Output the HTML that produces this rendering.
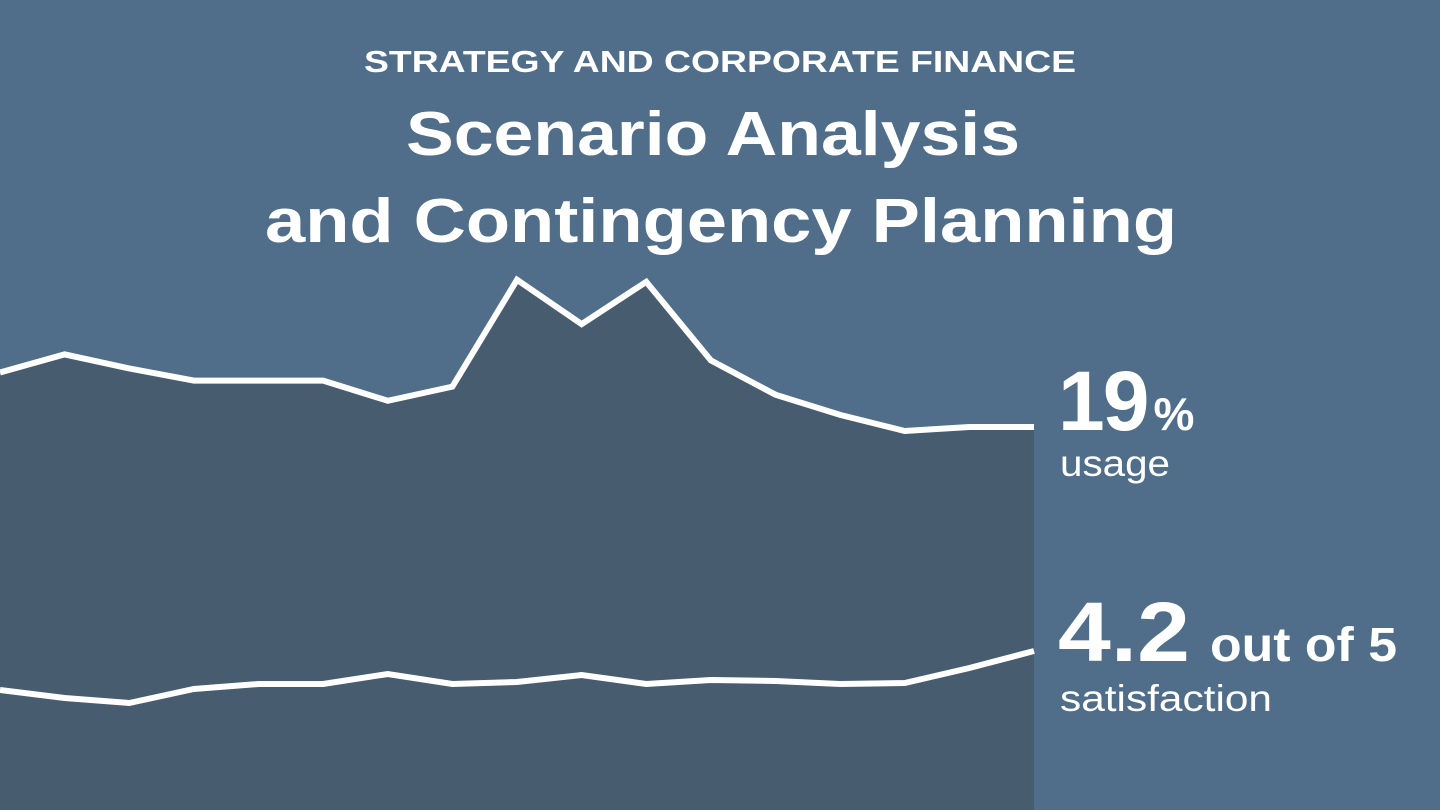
<!DOCTYPE html>
<html><head><meta charset="utf-8"><style>
html,body{margin:0;padding:0;width:1440px;height:810px;overflow:hidden;background:#506e89;font-family:"Liberation Sans",sans-serif;color:#fff}
svg{position:absolute;left:0;top:0}
</style></head><body>
<svg width="1440" height="810">
<rect width="1440" height="810" fill="#506e89"/>
<g id="marks"></g>
<text x="364" y="72" textLength="712" lengthAdjust="spacingAndGlyphs" font-size="31" font-weight="bold" fill="#fff">STRATEGY AND CORPORATE FINANCE</text>
<text x="406" y="155" textLength="614" lengthAdjust="spacingAndGlyphs" font-size="62" font-weight="bold" fill="#fff">Scenario Analysis</text>
<text x="265" y="242" textLength="912" lengthAdjust="spacingAndGlyphs" font-size="62" font-weight="bold" fill="#fff">and Contingency Planning</text>
<text x="1058" y="430" font-size="84" font-weight="bold" letter-spacing="-2" fill="#fff">19<tspan font-size="46" dx="6">%</tspan></text>
<text x="1060" y="476" textLength="110" lengthAdjust="spacingAndGlyphs" font-size="37" fill="#fff">usage</text>
<text x="1058" y="661" textLength="132" lengthAdjust="spacingAndGlyphs" font-size="84" font-weight="bold" fill="#fff">4.2</text>
<text x="1210" y="661" textLength="187" lengthAdjust="spacingAndGlyphs" font-size="48" font-weight="bold" fill="#fff">out of 5</text>
<text x="1060" y="711" textLength="212" lengthAdjust="spacingAndGlyphs" font-size="37" fill="#fff">satisfaction</text>
</svg>
<script>
const periods=[1,2,3,4,5,6,7,8,9,10,11,12,13,14,15,16,17];
const usage=[21.7,22.6,21.9,21.3,21.3,21.3,20.3,21.0,26.3,24.1,26.2,22.3,20.6,19.6,18.8,19.0,19.0];
const satisfaction=[3.81,3.73,3.68,3.82,3.87,3.87,3.97,3.87,3.89,3.96,3.87,3.91,3.90,3.87,3.88,4.03,4.2];
const X0=0,X1=1034;
function xs(i){return X0+(X1-X0)*i/(periods.length-1);}
function yu(v){return 810-v*20.16;}
function ys(v){return 1071-v*100;}
const NS="http://www.w3.org/2000/svg";
const g=document.getElementById('marks');
const up=usage.map((v,i)=>xs(i)+','+yu(v));
const area=document.createElementNS(NS,'polygon');
area.setAttribute('points',up.join(' ')+' '+X1+',810 '+X0+',810');
area.setAttribute('fill','#475c6f');


g.appendChild(area);
const ul=document.createElementNS(NS,'polyline');
ul.setAttribute('points',up.join(' '));
ul.setAttribute('fill','none');ul.setAttribute('stroke','#fff');ul.setAttribute('stroke-width','6');ul.setAttribute('stroke-linejoin','miter');


g.appendChild(ul);
const sl=document.createElementNS(NS,'polyline');
sl.setAttribute('points',satisfaction.map((v,i)=>xs(i)+','+ys(v)).join(' '));
sl.setAttribute('fill','none');sl.setAttribute('stroke','#fff');sl.setAttribute('stroke-width','6');


g.appendChild(sl);
</script>
</body></html>
